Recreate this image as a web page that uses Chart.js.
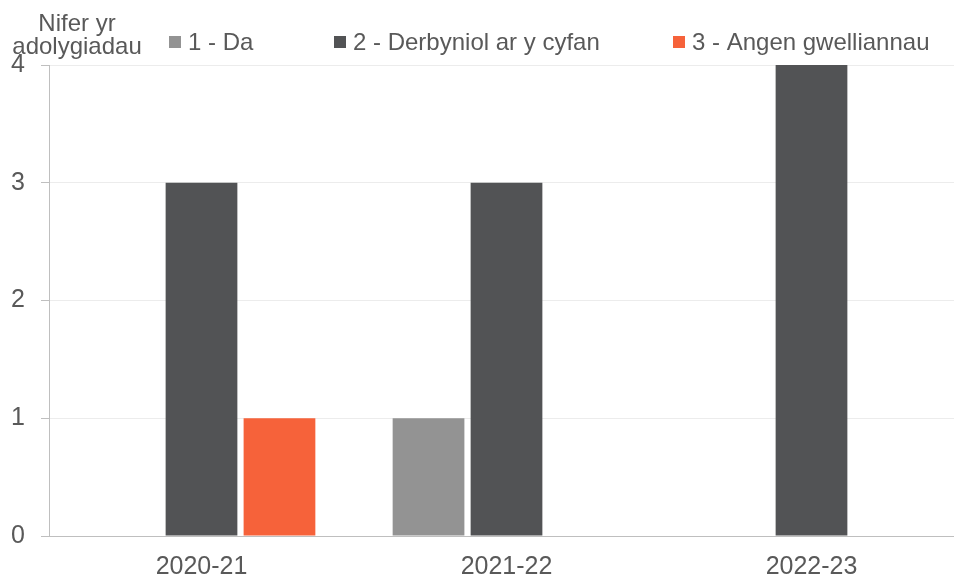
<!DOCTYPE html>
<html lang="cy">
<head>
    <meta charset="UTF-8">
    <title>Nifer yr adolygiadau</title>
    <style>
        body {
            margin: 0;
            padding: 0;
            background: #ffffff;
            overflow: hidden;
        }

        .chart-box {
            position: relative;
            width: 964px;  /* plot runs a little past the window edge, as in the original */
            height: 576px;
        }
    </style>
    <script src="https://cdn.jsdelivr.net/npm/chart.js"></script>
</head>
<body>
    <div class="chart-box">
        <canvas id="reviewChart"></canvas>
    </div>

    <script>
        const years = ['2020-21', '2021-22', '2022-23'];
        const seriesNames = ['1 - Da', '2 - Derbyniol ar y cyfan', '3 - Angen gwelliannau'];
        const daValues = [0, 1, 0];
        const derbyniolValues = [3, 3, 4];
        const angenValues = [1, 0, 0];
        const yTicks = [0, 1, 2, 3, 4];
        const axisTitle = ['Nifer yr', 'adolygiadau'];

        const colours = ['#939393', '#525355', '#f6623a'];
        const textColour = '#595959';
        const fontFamily = "'Liberation Sans', Arial, sans-serif";

        // Title and legend sit above the plot, drawn by hand to get the spacing right
        const headerPlugin = {
            id: 'header',
            afterDraw(chart) {
                const ctx = chart.ctx;
                ctx.save();
                ctx.fillStyle = textColour;
                ctx.font = '24px ' + fontFamily;
                ctx.textAlign = 'center';
                ctx.textBaseline = 'middle';
                ctx.fillText(axisTitle[0], 77, 24);
                ctx.fillText(axisTitle[1], 77, 47);

                const itemX = [169, 334, 673];
                ctx.textAlign = 'left';
                chart.data.datasets.forEach((ds, i) => {
                    ctx.fillStyle = ds.backgroundColor;
                    ctx.fillRect(itemX[i], 36, 12, 12);
                    ctx.fillStyle = textColour;
                    ctx.fillText(ds.label, itemX[i] + 19, 43);
                });
                ctx.restore();
            }
        };

        const reviewChart = new Chart(document.getElementById('reviewChart'), {
            type: 'bar',
            data: {
                labels: years,
                datasets: [
                    { label: seriesNames[0], data: daValues, backgroundColor: colours[0] },
                    { label: seriesNames[1], data: derbyniolValues, backgroundColor: colours[1] },
                    { label: seriesNames[2], data: angenValues, backgroundColor: colours[2] }
                ]
            },
            options: {
                responsive: true,
                maintainAspectRatio: false,
                animation: false,
                layout: { padding: { top: 65, left: 0, right: 0, bottom: 0 } },
                datasets: { bar: { categoryPercentage: 0.767, barPercentage: 0.92 } },
                plugins: {
                    legend: { display: false },
                    tooltip: { enabled: false }
                },
                scales: {
                    x: {
                        grid: { display: false },
                        border: { display: true, color: '#bfbfbf', width: 1 },
                        ticks: { color: textColour, font: { family: fontFamily, size: 25 }, padding: 8, maxRotation: 0 },
                        afterFit(scale) { scale.height = 40; }
                    },
                    y: {
                        min: 0,
                        max: 4,
                        afterBuildTicks(scale) { scale.ticks = yTicks.map(v => ({ value: v })); },
                        grid: { color: '#ececec', tickLength: 8, tickColor: '#bfbfbf' },
                        border: { display: true, color: '#bfbfbf', width: 1 },
                        ticks: { color: textColour, font: { family: fontFamily, size: 25 }, padding: 16 },
                        afterFit(scale) { scale.width = 49; }
                    }
                }
            },
            plugins: [headerPlugin]
        });
    </script>
</body>
</html>
